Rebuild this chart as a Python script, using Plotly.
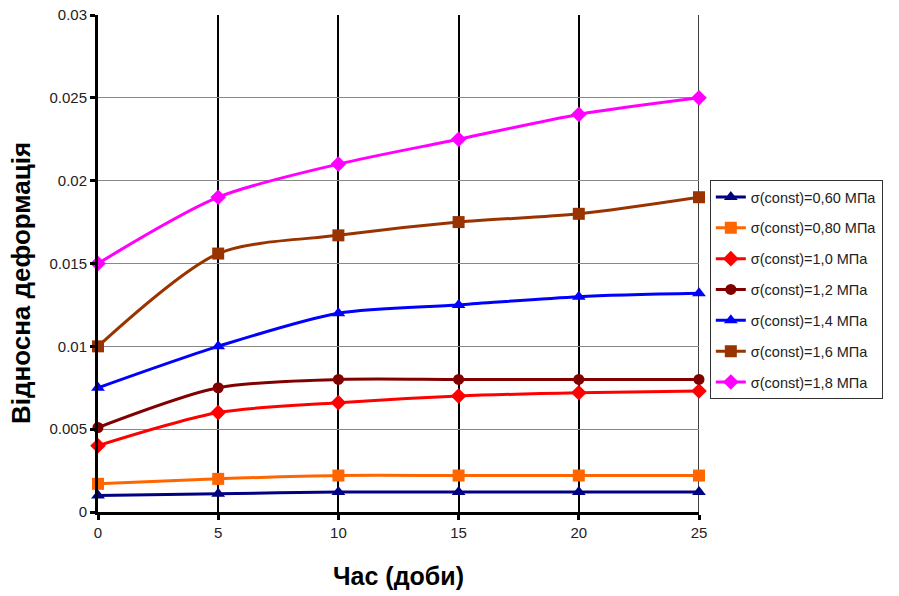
import plotly.graph_objects as go

# Time in days
days = [0, 5, 10, 15, 20, 25]

# Relative strain for each constant stress level
strain_060 = [0.0010, 0.0011, 0.0012, 0.0012, 0.0012, 0.0012]
strain_080 = [0.0017, 0.0020, 0.0022, 0.0022, 0.0022, 0.0022]
strain_100 = [0.0040, 0.0060, 0.0066, 0.0070, 0.0072, 0.0073]
strain_120 = [0.0051, 0.0075, 0.0080, 0.0080, 0.0080, 0.0080]
strain_140 = [0.0075, 0.0100, 0.0120, 0.0125, 0.0130, 0.0132]
strain_160 = [0.0100, 0.0156, 0.0167, 0.0175, 0.0180, 0.0190]
strain_180 = [0.0150, 0.0190, 0.0210, 0.0225, 0.0240, 0.0250]

series_names = [
    "σ(const)=0,60 МПа",
    "σ(const)=0,80 МПа",
    "σ(const)=1,0 МПа",
    "σ(const)=1,2 МПа",
    "σ(const)=1,4 МПа",
    "σ(const)=1,6 МПа",
    "σ(const)=1,8 МПа",
]
series_values = [strain_060, strain_080, strain_100, strain_120,
                 strain_140, strain_160, strain_180]
series_colors = ["#000080", "#FF6600", "#FF0000", "#800000",
                 "#0000FF", "#993300", "#FF00FF"]
series_symbols = ["triangle-up", "square", "diamond", "circle",
                  "triangle-up", "square", "diamond"]

x_range = [0, 25]
y_range = [0, 0.03]

fig = go.Figure()
for i, (name, vals, col, sym) in enumerate(zip(series_names, series_values,
                                                series_colors, series_symbols)):
    fig.add_trace(go.Scatter(
        x=days, y=vals, name=name, mode="lines+markers",
        line=dict(color=col, width=3, shape="spline", smoothing=0.8),
        marker=dict(symbol=sym, size=12 if sym != "circle" else 11, color=col),
        legendgroup=f"g{i}",
        cliponaxis=False,
    ))

# vertical grid line closing the plot on the right side
fig.add_shape(type="line", xref="x", yref="paper",
              x0=x_range[1], x1=x_range[1], y0=0, y1=1,
              line=dict(color="black", width=1.5), layer="below")

# y-axis title, set slightly below the centre of the axis
fig.add_annotation(
    text="<b>Відносна деформація</b>", textangle=-90,
    xref="paper", yref="paper", x=-0.127, y=0.46,
    xanchor="center", yanchor="middle", showarrow=False,
    font=dict(size=26, color="black"),
)

fig.update_layout(
    width=899, height=596,
    margin=dict(l=98, r=200, t=15, b=84),
    paper_bgcolor="white", plot_bgcolor="white",
    font=dict(family="Liberation Sans, Arial, sans-serif", size=15, color="#222"),
    showlegend=True,
    legend=dict(
        x=1.018, y=0.668, xanchor="left", yanchor="top",
        bordercolor="#333", borderwidth=1,
        font=dict(size=14.5, color="#222"),
        traceorder="grouped", tracegroupgap=9,
        itemwidth=30,
    ),
    xaxis=dict(
        range=x_range, dtick=5, tick0=0,
        showgrid=True, gridcolor="black", gridwidth=1.5,
        showline=True, linecolor="black", linewidth=3,
        ticks="outside", ticklen=5, tickwidth=3, tickcolor="black",
        zeroline=False, automargin=False,
        title=dict(text="<b>Час (доби)</b>", font=dict(size=25, color="black"), standoff=28),
    ),
    yaxis=dict(
        range=y_range, dtick=0.005, tick0=0,
        showgrid=True, gridcolor="#888", gridwidth=1,
        showline=True, linecolor="black", linewidth=3,
        ticks="outside", ticklen=5, tickwidth=3, tickcolor="black",
        zeroline=False, automargin=False,
        tickformat="~g",
    ),
)

fig.write_html("out.html")
